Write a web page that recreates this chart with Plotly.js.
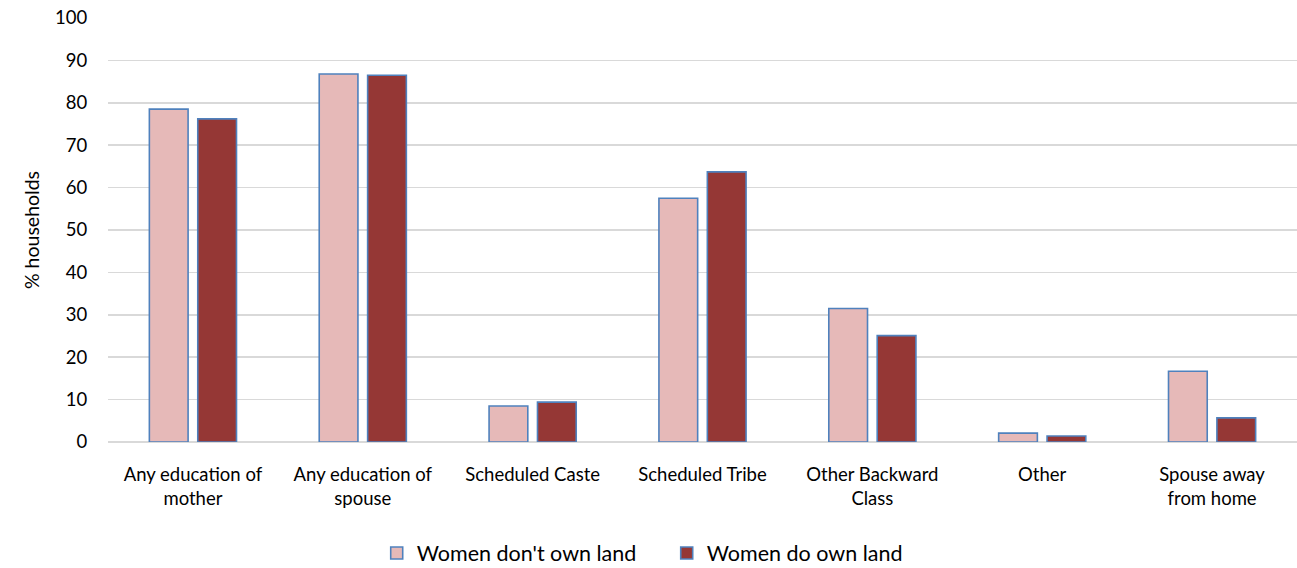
<!DOCTYPE html>
<html>
<head>
<meta charset="utf-8">
<script src="https://cdn.plot.ly/plotly-3.0.1.min.js"></script>
<style>html,body{margin:0;padding:0;background:#fff;}#chart{width:1297px;height:568px;}</style>
</head>
<body>
<div id="chart"></div>
<script>
const categories = ["Any education of<br>mother", "Any education of<br>spouse", "Scheduled Caste", "Scheduled Tribe", "Other Backward<br>Class", "Other", "Spouse away<br>from home"];
const dontOwn = [78.5, 86.8, 8.5, 57.5, 31.5, 2.1, 16.7];
const doOwn = [76.2, 86.5, 9.4, 63.7, 25.1, 1.4, 5.7];
const seriesNames = ["Women don't own land", "Women do own land"];

const outline = {color: '#4F81BD', width: 1.6};
const data = [
  {type: 'bar', x: categories, y: dontOwn, name: seriesNames[0], marker: {color: '#E6B9B8', line: outline}},
  {type: 'bar', x: categories, y: doOwn, name: seriesNames[1], marker: {color: '#953735', line: outline}}
];
const layout = {
  width: 1297, height: 568,
  margin: {l: 108, r: 0, t: 18, b: 126, autoexpand: false},
  paper_bgcolor: '#fff', plot_bgcolor: '#fff',
  font: {family: 'Lato, "Open Sans", sans-serif', size: 18.5, color: '#000'},
  barmode: 'group', bargap: 0.43, bargroupgap: 0.2,
  showlegend: true,
  legend: {orientation: 'h', x: 0.226, xanchor: 'left', y: -0.262, yanchor: 'middle', font: {size: 21.5}, traceorder: 'normal', itemwidth: 30, entrywidth: 245, entrywidthmode: 'pixels'},
  xaxis: {automargin: false, tickfont: {size: 18.5}, showgrid: false, showline: false, ticks: 'outside', ticklen: 16, tickcolor: 'rgba(0,0,0,0)'},
  yaxis: {automargin: false, range: [0, 100], dtick: 10, showgrid: true, gridcolor: '#D9D9D9', gridwidth: 1.5, zeroline: true, zerolinecolor: '#D9D9D9', zerolinewidth: 1.5, tickfont: {size: 18.5}, ticks: 'outside', ticklen: 16, tickcolor: 'rgba(0,0,0,0)',
    title: {text: '% households', font: {size: 19.5}, standoff: 10}}
};
Plotly.newPlot('chart', data, layout, {displayModeBar: false, staticPlot: true});
</script>
</body>
</html>
